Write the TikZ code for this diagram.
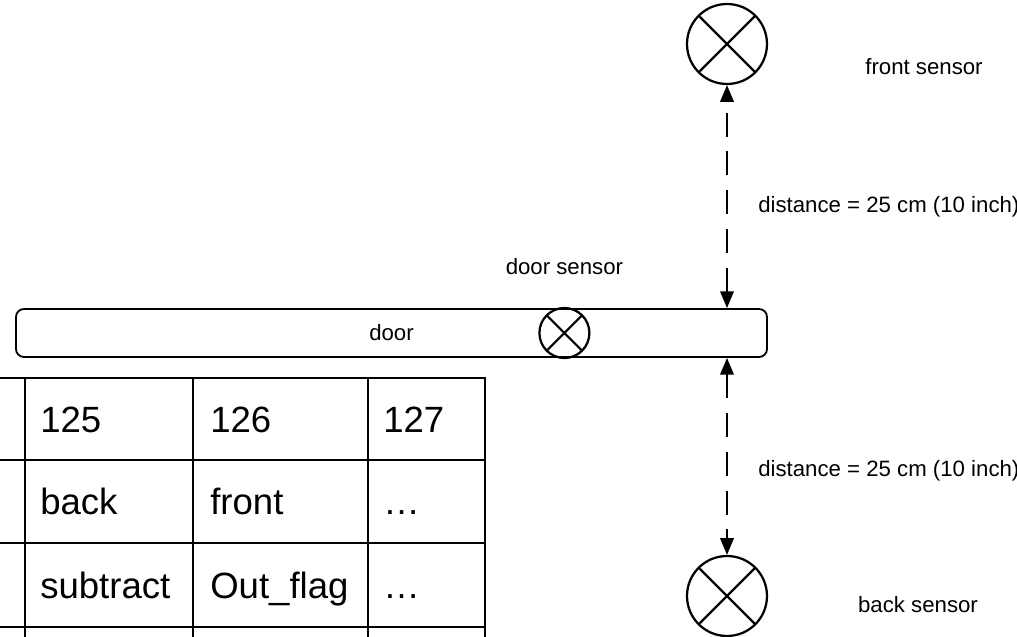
\documentclass[tikz,border=0pt]{standalone}
\usepackage{fontspec}
\usepackage{tkz-euclide}
\usetikzlibrary{arrows.meta}
\setmainfont{Liberation Sans}

\tikzset{
    sensor/.style = {draw, circle, inner sep=0pt, line width=1.6pt,
        path picture={\draw[line width=1.6pt]
            (path picture bounding box.north west) -- (path picture bounding box.south east)
            (path picture bounding box.north east) -- (path picture bounding box.south west);}},
    lbl/.style = {inner sep=0pt, anchor=base, font=\fontsize{15.8}{19}\selectfont},
    cell/.style = {inner sep=0pt, anchor=base west, font=\fontsize{26}{31}\selectfont},
    tableline/.style = {line width=1.3pt, line cap=rect},
    dist/.style = {<->, >={Triangle[length=0.42cm, width=0.34cm]}, line width=1.3pt,
        dash pattern=on 0.6cm off 0.37cm}
}

\begin{document}
\begin{tikzpicture}
    \useasboundingbox (0,0) rectangle (25.425,15.9);
    \tkzDefPoints{18.175/14.8/F, 18.175/1/B, 14.11/7.575/S, 9.7875/7.575/D}
    % the door and the sensor on it
    \node[draw, rounded corners=0.2cm, line width=1.3pt, minimum width=18.775cm,
        minimum height=1.2cm, inner sep=0pt, font=\fontsize{15.8}{19}\selectfont] (door) at (D) {door};
    \node[sensor, minimum size=1.25cm] (doorsensor) at (S) {};
    \node[lbl] (doorsensorlbl) at (14.11,9.025) {door sensor};
    % front and back sensors
    \node[sensor, minimum size=2cm] (front) at (F) {};
    \node[sensor, minimum size=2cm] (back) at (B) {};
    \node[lbl] (frontlbl) at (23.1,14.025) {front sensor};
    \node[lbl] (backlbl) at (22.95,0.6) {back sensor};
    \draw[dist] (door.north -| front) -- (front);
    \draw[dist] (door.south -| back) -- (back);
    \node[lbl, anchor=base west] (distfront) at (18.95,10.575) {distance = 25 cm (10 inch)};
    \node[lbl, anchor=base west] (distback) at (18.95,3.975) {distance = 25 cm (10 inch)};
    % table of events
    \foreach \x in {0.625,4.825,9.2,12.125}
        \draw[tableline] (\x,6.45) -- (\x,-0.3);
    \foreach \y in {6.45,4.4,2.325,0.225}
        \draw[tableline] (-0.3,\y) -- (12.125,\y);
    \foreach \txt/\x/\y [count=\i] in {125/1/5.075, 126/5.25/5.075, 127/9.575/5.075,
        back/1/3.025, front/5.25/3.025, …/9.575/3.025,
        subtract/1/0.95, Out\_flag/5.25/0.95, …/9.575/0.95}
        \node[cell] (cell\i) at (\x,\y) {\txt};
\end{tikzpicture}
\end{document}
